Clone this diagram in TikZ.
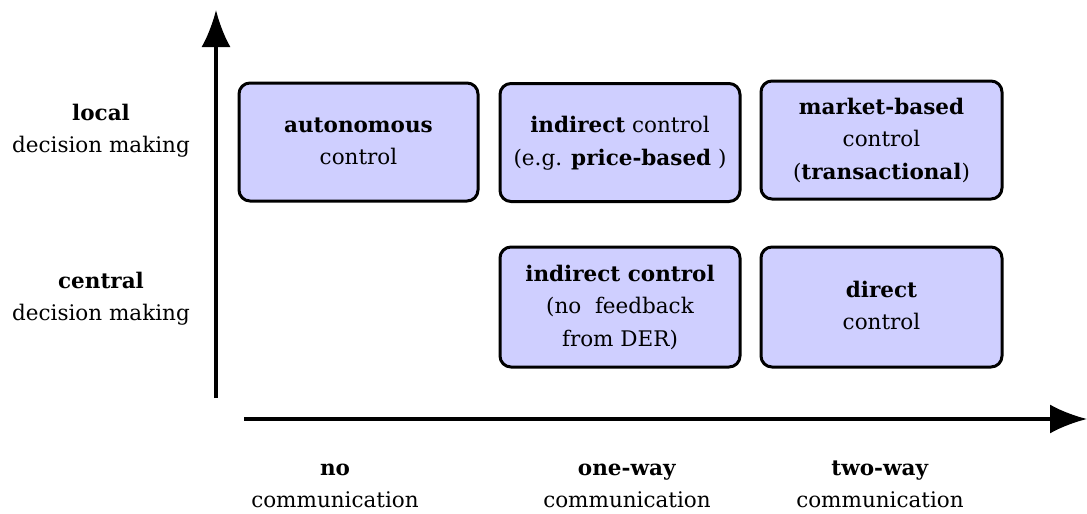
\documentclass[tikz,border=0pt]{standalone}
\usepackage{fontspec}
\setmainfont{DejaVu Serif}
\usetikzlibrary{arrows.meta}
\definecolor{boxfill}{HTML}{CFCFFF}
\newcommand{\txt}{\fontsize{21.5}{32.5}\selectfont}
\tikzset{
  cell/.style={draw=black, line width=3pt, rounded corners=11pt, fill=boxfill,
    minimum width=#1, minimum height=118pt, align=center, inner sep=0pt,
    font=\txt},
  cell/.default=239pt,
  axis/.style={line width=3.2pt, -{Latex[length=37pt,width=29pt]}},
  lab/.style={align=center, inner sep=0pt, font=\txt}
}
\begin{document}
\begin{tikzpicture}[x=1pt,y=-1pt]
  \useasboundingbox (0,0) rectangle (1087,514);

  % axes
  \coordinate (yo) at (216,398);
  \coordinate (yt) at (216,10);
  \coordinate (xo) at (244,419);
  \coordinate (xt) at (1087,419);
  \draw[axis] (yo) -- (yt);
  \draw[axis] (xo) -- (xt);

  % control categories
  \node[cell] (auto)   at (358.5,142) {\strut\textbf{autonomous}\\\strut control};
  \node[cell=240pt] (indp) at (620,142.5) {\strut\textbf{indirect} control\\\strut(e.g. \textbf{price-based} )};
  \node[cell=241pt] (mkt)  at (881.5,140) {\strut\textbf{market-based}\\\strut control\\\strut(\textbf{transactional})};
  \node[cell=240pt, minimum height=120pt] (indn) at (620,307) {\strut\textbf{indirect control}\\\strut(no~ feedback\\\strut from DER)};
  \node[cell=241pt, minimum height=120pt] (dir)  at (881.5,307) {\strut\textbf{direct}\\\strut control};

  % vertical axis labels
  \node[lab] (local)   at (101,130) {\strut\textbf{local}\\\strut decision making};
  \node[lab] (central) at (101,298) {\strut\textbf{central}\\\strut decision making};

  % horizontal axis labels
  \node[lab] (nocom)  at (335,485) {\strut\textbf{no}\\\strut communication};
  \node[lab] (onecom) at (627,485) {\strut\textbf{one-way}\\\strut communication};
  \node[lab] (twocom) at (880,485) {\strut\textbf{two-way}\\\strut communication};
\end{tikzpicture}
\end{document}
